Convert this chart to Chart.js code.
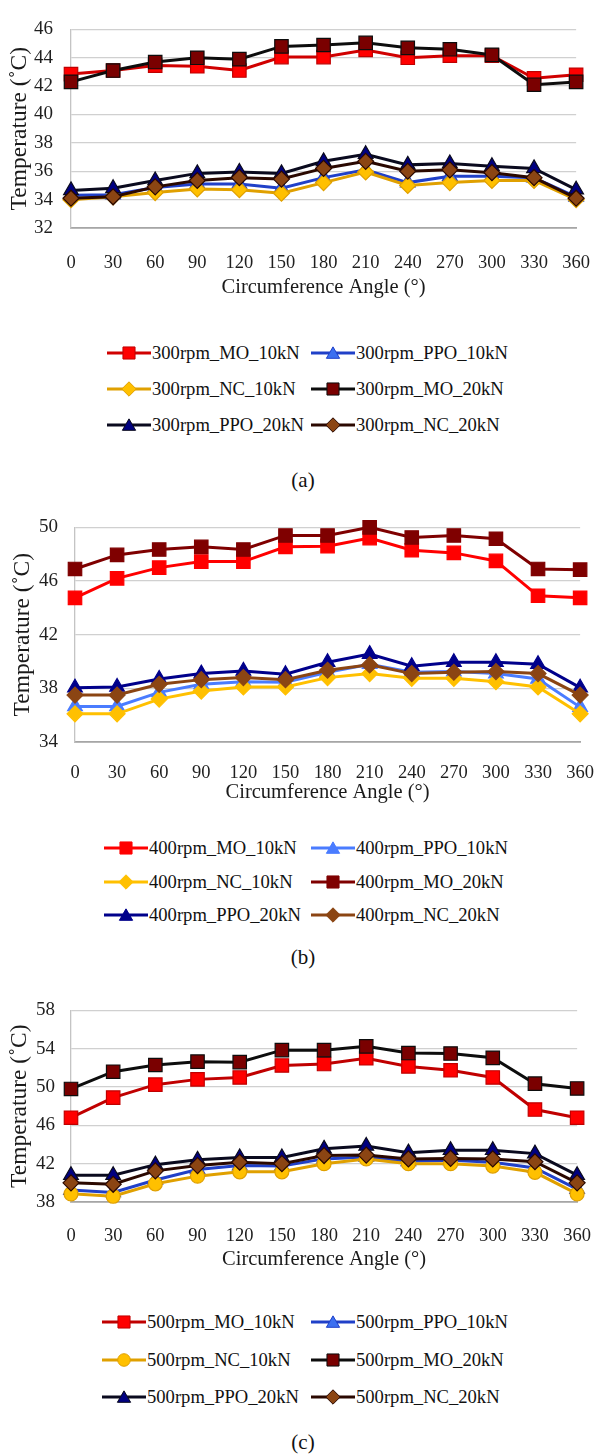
<!DOCTYPE html>
<html>
<head>
<meta charset="utf-8">
<script src="https://cdn.jsdelivr.net/npm/chart.js@4.4.1/dist/chart.umd.min.js"></script>
<style>
  html, body { margin: 0; padding: 0; background: #fff; }
  body { width: 606px; height: 1455px; position: relative; overflow: hidden;
         font-family: 'Liberation Serif', 'Times New Roman', serif; color: #111; }
  canvas.chart { position: absolute; left: 0; }
  .lg-row { position: absolute; left: 0; width: 606px; height: 30px; }
  .lg-item { position: absolute; top: 0; height: 30px; display: flex; align-items: center;
             font-size: 18.6px; white-space: nowrap; }
  .lg-item canvas { display: block; margin-right: 1px; }
  .caption { position: absolute; left: 0; width: 606px; text-align: center; font-size: 21px; line-height: 24px; }
</style>
</head>
<body>
<canvas class="chart" id="chartA" width="606" height="305" style="top:0px"></canvas>
<div id="legendA"></div>
<div class="caption" style="top:468px">(a)</div>

<canvas class="chart" id="chartB" width="606" height="309" style="top:499px"></canvas>
<div id="legendB"></div>
<div class="caption" style="top:945px">(b)</div>

<canvas class="chart" id="chartC" width="606" height="295" style="top:983px"></canvas>
<div id="legendC"></div>
<div class="caption" style="top:1430px">(c)</div>

<script>
// ---- data ----
const angles = ['0', '30', '60', '90', '120', '150', '180', '210', '240', '270', '300', '330', '360'];

// (a) 300 rpm
const rpm300_MO_10kN  = [42.85, 43.1, 43.45, 43.4, 43.1, 44.05, 44.05, 44.55, 44.0, 44.15, 44.15, 42.55, 42.8];
const rpm300_PPO_10kN = [34.3, 34.35, 34.85, 35.1, 35.1, 34.8, 35.55, 36.1, 35.2, 35.65, 35.65, 35.55, 34.2];
const rpm300_NC_10kN  = [34.0, 34.2, 34.5, 34.75, 34.7, 34.45, 35.2, 35.95, 35.0, 35.2, 35.35, 35.35, 34.0];
const rpm300_MO_20kN  = [42.3, 43.1, 43.7, 44.0, 43.9, 44.8, 44.9, 45.05, 44.7, 44.6, 44.2, 42.1, 42.3];
const rpm300_PPO_20kN = [34.65, 34.8, 35.35, 35.85, 35.95, 35.85, 36.7, 37.2, 36.45, 36.55, 36.35, 36.2, 34.7];
const rpm300_NC_20kN  = [34.1, 34.2, 34.9, 35.35, 35.55, 35.45, 36.2, 36.7, 36.0, 36.1, 35.9, 35.55, 34.1];

// (b) 400 rpm
const rpm400_MO_10kN  = [44.75, 46.2, 47.0, 47.45, 47.45, 48.55, 48.6, 49.2, 48.3, 48.1, 47.5, 44.9, 44.75];
const rpm400_PPO_10kN = [36.65, 36.65, 37.7, 38.3, 38.5, 38.45, 39.2, 39.8, 39.2, 39.25, 39.1, 38.7, 36.6];
const rpm400_NC_10kN  = [36.1, 36.1, 37.2, 37.8, 38.1, 38.1, 38.8, 39.1, 38.75, 38.75, 38.5, 38.1, 36.1];
const rpm400_MO_20kN  = [46.9, 47.95, 48.35, 48.55, 48.35, 49.4, 49.4, 50.0, 49.25, 49.4, 49.15, 46.9, 46.85];
const rpm400_PPO_20kN = [38.05, 38.1, 38.7, 39.1, 39.3, 39.05, 39.95, 40.55, 39.65, 39.95, 39.95, 39.8, 38.05];
const rpm400_NC_20kN  = [37.5, 37.5, 38.3, 38.65, 38.8, 38.65, 39.35, 39.75, 39.1, 39.2, 39.25, 39.1, 37.5];

// (c) 500 rpm
const rpm500_MO_10kN  = [46.8, 48.9, 50.25, 50.8, 51.0, 52.25, 52.4, 53.0, 52.15, 51.75, 51.0, 47.65, 46.8];
const rpm500_PPO_10kN = [39.25, 39.0, 40.3, 41.4, 41.8, 41.75, 42.5, 42.7, 42.25, 42.35, 42.15, 41.55, 39.35];
const rpm500_NC_10kN  = [38.85, 38.6, 39.9, 40.7, 41.15, 41.15, 42.0, 42.5, 42.0, 42.0, 41.75, 41.1, 38.85];
const rpm500_MO_20kN  = [49.8, 51.6, 52.3, 52.65, 52.6, 53.85, 53.85, 54.25, 53.55, 53.5, 53.05, 50.35, 49.85];
const rpm500_PPO_20kN = [40.8, 40.8, 41.9, 42.4, 42.65, 42.65, 43.55, 43.85, 43.15, 43.4, 43.4, 43.05, 40.8];
const rpm500_NC_20kN  = [40.0, 39.85, 41.25, 41.8, 42.15, 42.0, 42.85, 42.9, 42.5, 42.55, 42.5, 42.2, 40.0];

Chart.defaults.font.family = "'Liberation Serif', 'Times New Roman', serif";
Chart.defaults.color = '#1f1f1f';

// ---- series styles ----
function series(label, data, line, fill, edge, shape, r) {
    return { label, data, line, fill, edge, shape, r };
}

const seriesA = [
    series('300rpm_MO_10kN', rpm300_MO_10kN, '#D00000', '#FF0000', '#C00000', 'rect', 9.5),
    series('300rpm_PPO_10kN', rpm300_PPO_10kN, '#2040C8', '#3B6FF0', '#2040C8', 'triangle', 8.5),
    series('300rpm_NC_10kN', rpm300_NC_10kN, '#E0A000', '#FFC000', '#E0A000', 'rectRot', 8),
    series('300rpm_MO_20kN', rpm300_MO_20kN, '#0d0d0d', '#7A0000', '#0d0d0d', 'rect', 9.5),
    series('300rpm_PPO_20kN', rpm300_PPO_20kN, '#0a0a1e', '#000080', '#0a0a1e', 'triangle', 8.5),
    series('300rpm_NC_20kN', rpm300_NC_20kN, '#2a0800', '#8B4513', '#2a0800', 'rectRot', 8)
];
const seriesB = [
    series('400rpm_MO_10kN', rpm400_MO_10kN, '#FF0000', '#FF0000', '#FF0000', 'rect', 9.5),
    series('400rpm_PPO_10kN', rpm400_PPO_10kN, '#4A7CFF', '#4A7CFF', '#4A7CFF', 'triangle', 8.5),
    series('400rpm_NC_10kN', rpm400_NC_10kN, '#FFC000', '#FFC000', '#FFC000', 'rectRot', 8),
    series('400rpm_MO_20kN', rpm400_MO_20kN, '#7F0000', '#7F0000', '#7F0000', 'rect', 9.5),
    series('400rpm_PPO_20kN', rpm400_PPO_20kN, '#00008B', '#00008B', '#00008B', 'triangle', 8.5),
    series('400rpm_NC_20kN', rpm400_NC_20kN, '#8B4513', '#8B4513', '#8B4513', 'rectRot', 8)
];
const seriesC = [
    series('500rpm_MO_10kN', rpm500_MO_10kN, '#C00000', '#FF0000', '#C00000', 'rect', 9.5),
    series('500rpm_PPO_10kN', rpm500_PPO_10kN, '#2040C8', '#3B6FF0', '#2040C8', 'triangle', 8.5),
    series('500rpm_NC_10kN', rpm500_NC_10kN, '#E0A000', '#FFC000', '#E0A000', 'circle', 7),
    series('500rpm_MO_20kN', rpm500_MO_20kN, '#0d0d0d', '#7A0000', '#0d0d0d', 'rect', 9.5),
    series('500rpm_PPO_20kN', rpm500_PPO_20kN, '#0a0a1e', '#000080', '#0a0a1e', 'triangle', 8.5),
    series('500rpm_NC_20kN', rpm500_NC_20kN, '#2a0800', '#8B4513', '#2a0800', 'rectRot', 8)
];

// ---- chart builder ----
function buildChart(id, list, y, geo) {
    const ctx = document.getElementById(id).getContext('2d');
    return new Chart(ctx, {
        type: 'line',
        data: {
            labels: angles,
            datasets: list.map((s, i) => ({
                label: s.label,
                data: s.data,
                borderColor: s.line,
                borderWidth: 3,
                backgroundColor: s.fill,
                pointStyle: s.shape,
                pointRadius: s.r,
                pointHoverRadius: s.r,
                pointBackgroundColor: s.fill,
                pointBorderColor: s.edge,
                pointBorderWidth: 1.2,
                tension: 0,
                clip: false,
                order: list.length - i   // later series on top, like Excel
            }))
        },
        options: {
            responsive: false,
            animation: false,
            layout: { padding: { top: geo.top, right: geo.right, bottom: 0, left: 0 } },
            plugins: { legend: { display: false }, tooltip: { enabled: false } },
            scales: {
                x: {
                    type: 'category',
                    offset: false,
                    grid: { display: false },
                    border: { display: true, color: '#a6a6a6', width: 1.8 },
                    ticks: { font: { size: 18.5 }, padding: geo.xTickPad, maxRotation: 0, autoSkip: false },
                    title: { display: true, text: 'Circumference Angle (°)', font: { size: 20.5 }, color: '#1a1a1a',
                             padding: { top: 0, bottom: geo.xTitlePad } },
                    afterFit: s => { s.height = geo.xHeight; }
                },
                y: {
                    min: y.min, max: y.max,
                    grid: { color: '#d0d0d0', lineWidth: 1.3, drawTicks: false },
                    border: { display: true, color: '#c4c4c4', width: 1.3 },
                    ticks: { stepSize: y.step, font: { size: 19 }, padding: geo.yTickPad },
                    title: { display: true, text: 'Temperature (˚C)', font: { size: 23.5 }, color: '#1a1a1a',
                             padding: { top: geo.yTitlePad, bottom: 0 } },
                    afterFit: s => { s.width = geo.left; }
                }
            }
        }
    });
}

// ---- legend (Excel style: line with marker, 2 columns) ----
function drawMarker(c, shape, x, y, r) {
    c.beginPath();
    if (shape === 'rect') {
        const h = r * Math.SQRT1_2;
        c.rect(x - h, y - h, 2 * h, 2 * h);
    } else if (shape === 'rectRot') {
        c.moveTo(x - r, y); c.lineTo(x, y - r); c.lineTo(x + r, y); c.lineTo(x, y + r); c.closePath();
    } else if (shape === 'triangle') {
        c.moveTo(x, y - r);
        c.lineTo(x + Math.sin(2 * Math.PI / 3) * r, y + 0.5 * r);
        c.lineTo(x - Math.sin(2 * Math.PI / 3) * r, y + 0.5 * r);
        c.closePath();
    } else {
        c.arc(x, y, r, 0, Math.PI * 2);
    }
    c.fill();
    c.stroke();
}

function buildLegend(id, chart, list, rows, cols) {
    const box = document.getElementById(id);
    chart.data.datasets.forEach((ds, i) => {
        const s = list[i];
        const row = Math.floor(i / 2), col = i % 2;
        let rowEl = box.children[row];
        if (!rowEl) {
            rowEl = document.createElement('div');
            rowEl.className = 'lg-row';
            rowEl.style.top = (rows[row] - 15) + 'px';
            box.appendChild(rowEl);
        }
        const item = document.createElement('div');
        item.className = 'lg-item';
        item.style.left = cols[col] + 'px';
        const icon = document.createElement('canvas');
        icon.width = 44; icon.height = 22;
        const c = icon.getContext('2d');
        c.strokeStyle = ds.borderColor; c.lineWidth = 3.2;
        c.beginPath(); c.moveTo(0, 11); c.lineTo(44, 11); c.stroke();
        c.fillStyle = s.fill; c.strokeStyle = s.edge; c.lineWidth = 1;
        drawMarker(c, s.shape, 22, s.shape === 'triangle' ? 12.5 : 11, s.r * 0.9);
        const txt = document.createElement('span');
        txt.textContent = ds.label;
        item.appendChild(icon);
        item.appendChild(txt);
        rowEl.appendChild(item);
    });
}

const chartA = buildChart('chartA', seriesA, { min: 32, max: 46, step: 2 },
    { top: 18, right: 14, left: 71, xHeight: 77, xTickPad: 16, xTitlePad: 5, yTickPad: 18, yTitlePad: 6 });
const chartB = buildChart('chartB', seriesB, { min: 34, max: 50, step: 4 },
    { top: 18, right: 16, left: 75, xHeight: 66, xTickPad: 12, xTitlePad: 3, yTickPad: 17, yTitlePad: 9 });
const chartC = buildChart('chartC', seriesC, { min: 38, max: 58, step: 4 },
    { top: 18, right: 14, left: 71, xHeight: 76, xTickPad: 15, xTitlePad: 6, yTickPad: 16, yTitlePad: 6 });

buildLegend('legendA', chartA, seriesA, [353, 389, 425], [107, 311]);
buildLegend('legendB', chartB, seriesB, [848, 882, 915], [104, 311]);
buildLegend('legendC', chartC, seriesC, [1322, 1360, 1397], [102, 311]);
</script>
</body>
</html>
